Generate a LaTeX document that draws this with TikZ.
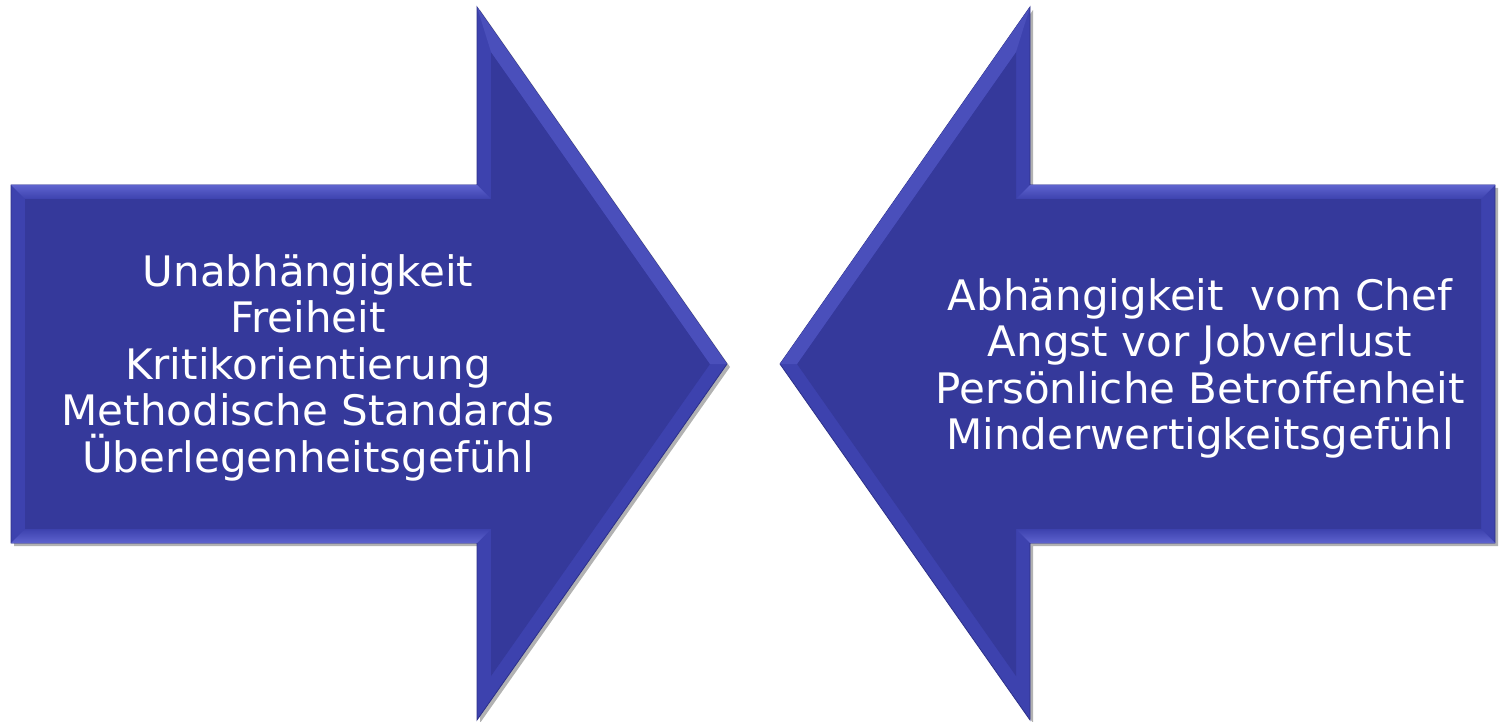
\documentclass[tikz,border=0pt]{standalone}
\usepackage{fontspec}
\setmainfont[Ligatures=NoCommon]{DejaVu Sans}
\definecolor{arrmain}{HTML}{35399B}
\definecolor{arrbevel}{HTML}{3D42AE}
\definecolor{arrlight}{HTML}{5E63CE}
\definecolor{arrdark}{HTML}{2C3088}
\tikzset{
  arrshadow/.style={fill=black!30, draw=none},
  arrouter/.style={fill=arrbevel, draw=arrdark, line width=0.8pt},
  arrinner/.style={fill=arrmain, draw=none},
  arrtext/.style={text=white, align=center, font=\fontsize{42}{46.5}\selectfont, inner sep=0pt}
}
\begin{document}
\begin{tikzpicture}[x=1pt,y=-1pt]
\useasboundingbox (0,0) rectangle (1499,722);
% left arrow
\fill[arrshadow] (14,188) -- (480,188) -- (480,10) -- (730,367) -- (480,723) -- (480,546) -- (14,546) -- cycle;
\draw[arrouter] (11,185) -- (477,185) -- (477,7) -- (727,364) -- (477,720) -- (477,543) -- (11,543) -- cycle;
\fill[arrinner] (25,199) -- (491,199) -- (491,52) -- (710,364) -- (491,676) -- (491,529) -- (25,529) -- cycle;
\shade[top color=arrlight, bottom color=arrbevel] (11,185) -- (477,185) -- (491,199) -- (25,199) -- cycle;
\shade[top color=arrbevel, bottom color=arrlight] (477,543) -- (11,543) -- (25,529) -- (491,529) -- cycle;
\fill[arrlight!40!arrbevel] (477,7) -- (727,364) -- (710,364) -- (491,52) -- cycle;
% right arrow
\fill[arrshadow] (1033,188) -- (1498,188) -- (1498,546) -- (1033,546) -- (1033,723) -- (783,367) -- (1033,10) -- cycle;
\draw[arrouter] (1030,185) -- (1495,185) -- (1495,543) -- (1030,543) -- (1030,720) -- (780,364) -- (1030,7) -- cycle;
\fill[arrinner] (1016,199) -- (1481,199) -- (1481,529) -- (1016,529) -- (1016,676) -- (797,364) -- (1016,52) -- cycle;
\shade[top color=arrlight, bottom color=arrbevel] (1030,185) -- (1495,185) -- (1481,199) -- (1016,199) -- cycle;
\shade[top color=arrbevel, bottom color=arrlight] (1495,543) -- (1030,543) -- (1016,529) -- (1481,529) -- cycle;
\fill[arrlight!40!arrbevel] (1030,7) -- (780,364) -- (797,364) -- (1016,52) -- cycle;
% texts
\node[arrtext] (lefttext) at (308,367.5) {Unabhängigkeit\\Freiheit\\Kritikorientierung\\Methodische Standards\\Überlegenheitsgefühl};
\node[arrtext] (righttext) at (1200,368.5) {Abhängigkeit\ \ vom Chef\\Angst vor Jobverlust\\Persönliche Betroffenheit\\Minderwertigkeitsgefühl};
\end{tikzpicture}
\end{document}
